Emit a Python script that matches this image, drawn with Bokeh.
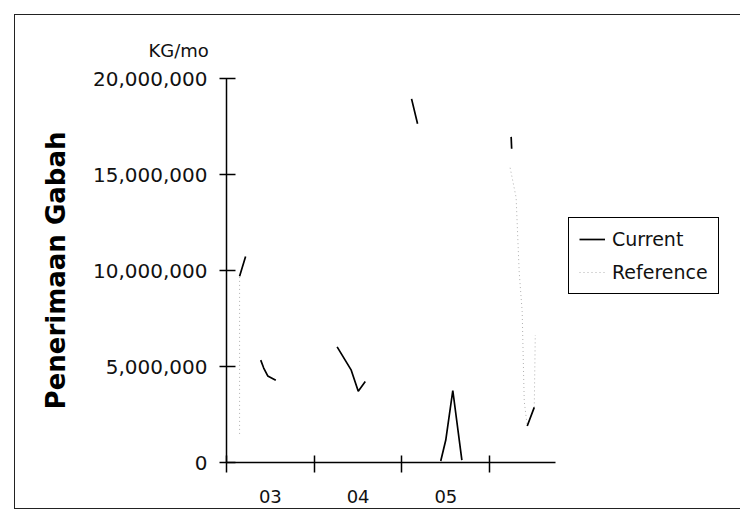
import math
from bokeh.plotting import figure
from bokeh.models import FixedTicker, NumeralTickFormatter, Legend, LegendItem, Range1d
from bokeh.embed import file_html
from bokeh.resources import INLINE

nan = float("nan")

# x in months since Jan 2003; NaN = gap in the (scanned) line
year_labels = ["03", "04", "05"]
year_label_pos = [6, 18, 30]
year_bounds = [0, 12, 24, 36]
y_ticks = [0, 5_000_000, 10_000_000, 15_000_000, 20_000_000]

cur_month = [1.79, 2.61, nan, 4.68, 5.09, 5.64, 6.74, nan,
             15.13, 17.06, 18.02, 18.98, nan, 25.31, 26.13, nan,
             29.30, 29.99, 30.95, 32.19, nan, 38.93, 39.0, nan, 41.13, 42.09]
cur_value = [9_700_000, 10_730_000, nan, 5_330_000, 4_920_000, 4_510_000, 4_280_000, nan,
             6_020_000, 4_810_000, 3_710_000, 4_220_000, nan, 18_940_000, 17_640_000, nan,
             80_000, 1_170_000, 3_750_000, 120_000, nan, 16_960_000, 16_340_000, nan,
             1_900_000, 2_870_000]

ref_month = [1.79, 1.79, nan, 38.79, 39.61, 40.03, 40.44, 40.58, 40.72, 41.13, nan, 42.09, 42.23]
ref_value = [1_490_000, 9_700_000, nan, 15_350_000, 13_800_000, 9_920_000, 7_850_000,
             5_470_000, 3_190_000, 1_900_000, nan, 2_870_000, 6_640_000]

FONT = "DejaVu Sans"
INK = "#111111"

# frame spans past the end of the time axis so the legend can sit beside it
p = figure(width=726, height=495, output_backend="svg", toolbar_location=None,
           x_range=Range1d(0, 69.75), y_range=Range1d(0, 20_000_000),
           min_border_left=211, min_border_right=5, min_border_top=63,
           min_border_bottom=48)
p.grid.visible = False
p.outline_line_color = None
p.background_fill_color = "white"
p.border_fill_color = "white"
p.styles = {"margin-left": "14px", "margin-top": "14px",
            "border-left": "1px solid #222", "border-top": "1px solid #222",
            "border-bottom": "1px solid #222"}

r_ref = p.line(ref_month, ref_value, line_color="#b0b0b0", line_width=1, line_dash="1 3")
r_cur = p.line(cur_month, cur_value, line_color="black", line_width=1.7)

# unit label above the value axis
p.title.text = "KG/mo"
p.title.align = "left"
p.title.offset = -78
p.title.text_font = FONT
p.title.text_font_size = "18px"
p.title.text_font_style = "normal"
p.title.text_color = INK
p.title.standoff = 35

# y axis
ya = p.yaxis[0]
ya.ticker = FixedTicker(ticks=y_ticks)
ya.formatter = NumeralTickFormatter(format="0,0")
ya.major_tick_in = 9
ya.major_tick_out = 7
ya.major_tick_line_width = 1.5
ya.axis_line_width = 1.5
ya.major_label_standoff = 12
ya.major_label_text_font = FONT
ya.major_label_text_font_size = "20px"
ya.major_label_text_color = INK
ya.axis_label = "Penerimaan Gabah"
ya.axis_label_text_font = FONT
ya.axis_label_text_font_style = "bold"
ya.axis_label_text_font_size = "26px"
ya.axis_label_text_color = "black"
ya.axis_label_standoff = 19

# x axis: labels at year centres, tick marks at year boundaries
xa = p.xaxis[0]
xa.bounds = (0, 45)
xa.ticker = FixedTicker(ticks=year_label_pos, minor_ticks=year_bounds)
xa.major_label_overrides = {pos: lab for pos, lab in zip(year_label_pos, year_labels)}
xa.major_tick_line_color = None
xa.major_tick_in = 0
xa.major_tick_out = 0
xa.minor_tick_in = 7
xa.minor_tick_out = 10
xa.minor_tick_line_color = "black"
xa.minor_tick_line_width = 1.5
xa.axis_line_width = 1.5
xa.major_label_standoff = 17
xa.major_label_text_font = FONT
xa.major_label_text_font_size = "18px"
xa.major_label_text_color = INK

legend = Legend(items=[LegendItem(label="Current", renderers=[r_cur]),
                       LegendItem(label="Reference", renderers=[r_ref])],
                location=(342, 168))
legend.margin = 0
legend.padding = 10
legend.spacing = 11
legend.glyph_width = 26
legend.glyph_height = 20
legend.label_height = 20
legend.label_standoff = 7
legend.label_text_font = FONT
legend.label_text_font_size = "19px"
legend.label_text_color = INK
legend.border_line_color = "black"
legend.border_line_alpha = 1.0
legend.border_line_width = 1.5
legend.background_fill_alpha = 0
p.add_layout(legend)

open("out.html", "w").write(file_html(p, INLINE))
